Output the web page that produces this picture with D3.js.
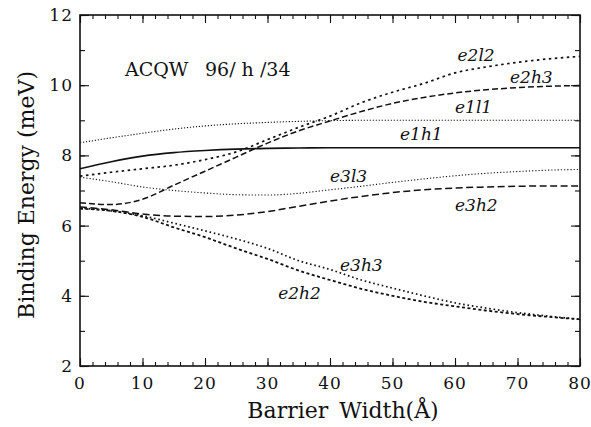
<!DOCTYPE html>
<html>
<head>
<meta charset="utf-8">
<script src="https://cdnjs.cloudflare.com/ajax/libs/d3/7.8.5/d3.min.js"></script>
<style>
  body { margin: 0; background: #fff; }
</style>
</head>
<body>
<div id="chart"></div>
<script>
var w = 591;
var h = 427;
var serif = "'DejaVu Serif', 'Liberation Serif', serif";

// barrier width (Angstrom) sample points, shared by all curves
var widths = [0, 5, 10, 15, 20, 25, 30, 35, 40, 45, 50, 55, 60, 65, 70, 75, 80];

// binding energies (meV)
var e1h1 = [7.62, 7.82, 7.98, 8.08, 8.14, 8.18, 8.2, 8.21, 8.22, 8.22, 8.22, 8.22, 8.22, 8.22, 8.22, 8.22, 8.22];
var e1l1 = [8.36, 8.5, 8.63, 8.75, 8.84, 8.9, 8.94, 8.97, 8.99, 9.0, 9.0, 9.0, 9.0, 9.0, 9.0, 9.0, 9.0];
var e2l2 = [7.41, 7.52, 7.62, 7.72, 7.88, 8.1, 8.45, 8.8, 9.12, 9.5, 9.8, 10.05, 10.35, 10.52, 10.65, 10.75, 10.82];
var e2h3 = [6.65, 6.6, 6.75, 7.15, 7.55, 7.95, 8.35, 8.7, 8.98, 9.25, 9.48, 9.65, 9.78, 9.87, 9.93, 9.97, 9.99];
var e3l3 = [7.38, 7.25, 7.1, 7.0, 6.93, 6.88, 6.87, 6.92, 7.02, 7.12, 7.23, 7.33, 7.42, 7.49, 7.54, 7.58, 7.6];
var e3h2 = [6.53, 6.45, 6.33, 6.27, 6.26, 6.3, 6.4, 6.55, 6.7, 6.83, 6.94, 7.02, 7.07, 7.1, 7.12, 7.13, 7.13];
var e3h3 = [6.5, 6.42, 6.28, 6.07, 5.85, 5.62, 5.35, 5.0, 4.75, 4.45, 4.22, 4.0, 3.8, 3.65, 3.52, 3.42, 3.33];
var e2h2 = [6.48, 6.42, 6.25, 5.95, 5.67, 5.35, 5.05, 4.72, 4.45, 4.2, 4.0, 3.83, 3.7, 3.58, 3.48, 3.4, 3.33];

var xTicks = [0, 10, 20, 30, 40, 50, 60, 70, 80];
var yTicks = [2, 4, 6, 8, 10, 12];

// line styles per curve
var curves = [
  { name: "e1h1", values: e1h1, dash: null,      width: 1.6 },
  { name: "e1l1", values: e1l1, dash: "1.2,1.8", width: 1.1 },
  { name: "e2l2", values: e2l2, dash: "2.5,3.5", width: 1.7 },
  { name: "e2h3", values: e2h3, dash: "6,3",     width: 1.5 },
  { name: "e3l3", values: e3l3, dash: "1.2,2",   width: 1.1 },
  { name: "e3h2", values: e3h2, dash: "7,3.5",   width: 1.5 },
  { name: "e3h3", values: e3h3, dash: "1.6,2.8", width: 1.7 },
  { name: "e2h2", values: e2h2, dash: "3,2.5",   width: 1.8 }
];

// curve labels, placed in data units
var labels = [
  { text: "e2l2", x: 60.4, y: 10.7 },
  { text: "e2h3", x: 68.8, y: 10.05 },
  { text: "e1l1", x: 60.0, y: 9.2 },
  { text: "e1h1", x: 51.2, y: 8.45 },
  { text: "e3l3", x: 40.0, y: 7.25 },
  { text: "e3h2", x: 60.0, y: 6.42 },
  { text: "e3h3", x: 41.6, y: 4.7 },
  { text: "e2h2", x: 31.7, y: 3.9 }
];

var margin = { left: 80, right: 11, top: 15, bottom: 61 };

var x = d3.scaleLinear().domain([0, 80]).range([margin.left, w - margin.right]);
var y = d3.scaleLinear().domain([2, 12]).range([h - margin.bottom, margin.top]);

var svg = d3.select("#chart")
  .append("svg")
  .attr("width", w)
  .attr("height", h)
  .style("font-family", serif);

// frame
svg.append("rect")
  .attr("x", x(0))
  .attr("y", y(12))
  .attr("width", x(80) - x(0))
  .attr("height", y(2) - y(12))
  .attr("fill", "none")
  .attr("stroke", "#111")
  .attr("stroke-width", 1.6);

// inward ticks on all four sides
function addAxis(axis, tx, ty) {
  var g = svg.append("g")
    .attr("transform", "translate(" + tx + "," + ty + ")")
    .call(axis);
  g.select(".domain").remove();
  g.selectAll("line").attr("stroke", "#111").attr("stroke-width", 1.1);
  return g;
}

var xMinor = d3.range(0, 81, 2);
var yMinor = d3.range(2, 12.1, 1);

addAxis(d3.axisTop(x).tickValues(xMinor).tickSize(4).tickFormat(""), 0, y(2));
addAxis(d3.axisBottom(x).tickValues(xMinor).tickSize(4).tickFormat(""), 0, y(12));
addAxis(d3.axisRight(y).tickValues(yMinor).tickSize(5).tickFormat(""), x(0), 0);
addAxis(d3.axisLeft(y).tickValues(yMinor).tickSize(5).tickFormat(""), x(80), 0);

addAxis(d3.axisTop(x).tickValues(xTicks).tickSize(8).tickFormat(""), 0, y(2));
addAxis(d3.axisBottom(x).tickValues(xTicks).tickSize(8).tickFormat(""), 0, y(12));
addAxis(d3.axisRight(y).tickValues(yTicks).tickSize(9).tickFormat(""), x(0), 0);
addAxis(d3.axisLeft(y).tickValues(yTicks).tickSize(9).tickFormat(""), x(80), 0);

function txt(sel) {
  return sel.style("font-family", serif).attr("fill", "#111");
}

// tick labels
svg.selectAll(".xlab")
  .data(xTicks)
  .enter()
  .append("text")
  .attr("class", "xlab")
  .attr("x", d => x(d))
  .attr("y", y(2) + 23)
  .attr("text-anchor", "middle")
  .attr("font-size", 17)
  .attr("letter-spacing", 1)
  .call(txt)
  .text(d => d);

svg.selectAll(".ylab")
  .data(yTicks)
  .enter()
  .append("text")
  .attr("class", "ylab")
  .attr("x", x(0) - 7)
  .attr("y", d => y(d) + 6)
  .attr("text-anchor", "end")
  .attr("font-size", 17)
  .attr("letter-spacing", 1)
  .call(txt)
  .text(d => d);

// curves
var line = d3.line()
  .x((d, i) => x(widths[i]))
  .y(d => y(d))
  .curve(d3.curveMonotoneX);

svg.selectAll(".curve")
  .data(curves)
  .enter()
  .append("path")
  .attr("class", "curve")
  .attr("d", d => line(d.values))
  .attr("fill", "none")
  .attr("stroke", "#111")
  .attr("stroke-width", d => d.width)
  .attr("stroke-dasharray", d => d.dash);

svg.selectAll(".clab")
  .data(labels)
  .enter()
  .append("text")
  .attr("class", "clab")
  .attr("x", d => x(d.x))
  .attr("y", d => y(d.y))
  .attr("font-size", 17)
  .attr("font-style", "italic")
  .call(txt)
  .text(d => d.text);

// title inside the plot
svg.append("text")
  .attr("x", 125)
  .attr("y", 76)
  .attr("font-size", 19)
  .call(txt)
  .text("ACQW");
svg.append("text")
  .attr("x", 205)
  .attr("y", 76)
  .attr("font-size", 19)
  .call(txt)
  .text("96/ h /34");

// axis titles
svg.append("text")
  .attr("x", 343)
  .attr("y", 418)
  .attr("text-anchor", "middle")
  .attr("font-size", 22)
  .call(txt)
  .text("Barrier\u2002Width(\u00C5)");

svg.append("text")
  .attr("transform", "translate(34," + 195 + ") rotate(-90)")
  .attr("text-anchor", "middle")
  .attr("font-size", 22)
  .call(txt)
  .text("Binding Energy (meV)");
</script>
</body>
</html>
